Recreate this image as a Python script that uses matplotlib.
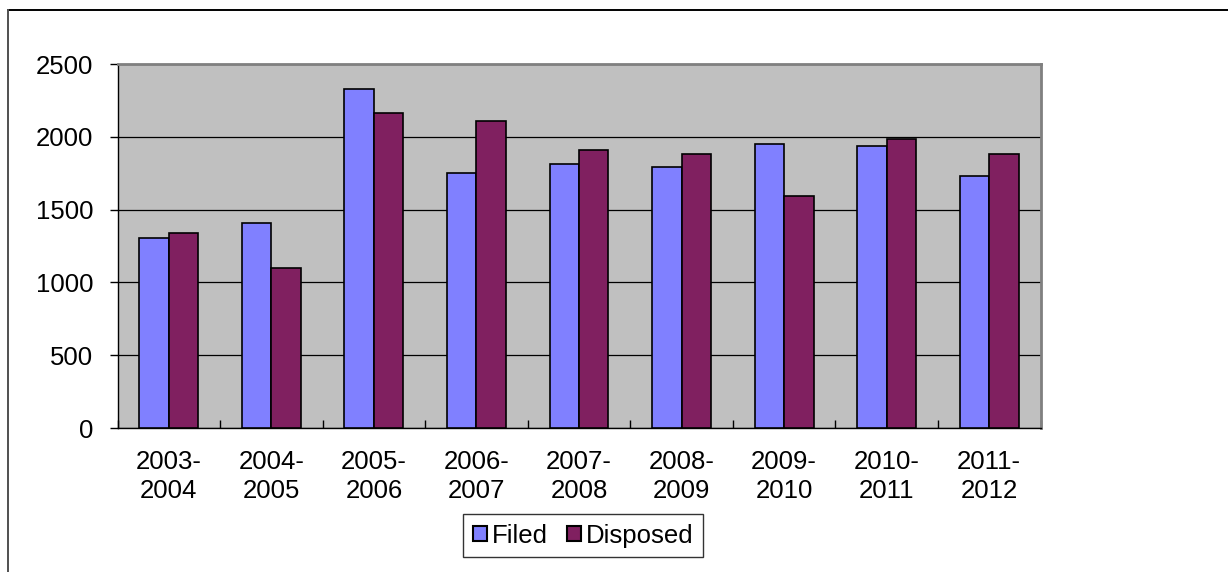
import matplotlib
matplotlib.use("Agg")
import matplotlib.pyplot as plt
from matplotlib.patches import Patch
from matplotlib.lines import Line2D
import numpy as np

categories = ["2003-\n2004", "2004-\n2005", "2005-\n2006", "2006-\n2007", "2007-\n2008",
              "2008-\n2009", "2009-\n2010", "2010-\n2011", "2011-\n2012"]
filed = [1308, 1408, 2330, 1750, 1810, 1795, 1950, 1940, 1733]
disposed = [1338, 1098, 2164, 2110, 1908, 1881, 1593, 1986, 1881]
yticks = [0, 500, 1000, 1500, 2000, 2500]

plt.rcParams['font.family'] = ['Liberation Sans', 'DejaVu Sans']

W, H = 1228, 572
fig = plt.figure(figsize=(W / 100, H / 100), dpi=100)
fig.patch.set_facecolor('white')

ax = fig.add_axes([117.5 / W, 1 - 428 / H, (1040.5 - 117.5) / W, (428 - 64) / H])
ax.set_facecolor('#C0C0C0')

x = np.arange(len(categories))
bw = 0.2875
ax.bar(x - bw / 2, filed, width=bw, color='#8080FF', edgecolor='black', linewidth=1.2,
       label='Filed', zorder=3)
ax.bar(x + bw / 2, disposed, width=bw, color='#802060', edgecolor='black', linewidth=1.2,
       label='Disposed', zorder=3)

ax.set_xlim(-0.5, len(categories) - 0.5)
ax.set_ylim(0, 2500)
ax.set_yticks(yticks)
ax.set_yticklabels([str(v) for v in yticks])
ax.yaxis.grid(True, color='black', linewidth=0.9, zorder=1)
ax.set_axisbelow(True)

ax.set_xticks(x)
ax.set_xticklabels(categories, fontsize=18.5, linespacing=1.25)
ax.tick_params(axis='x', length=0, pad=16)
ax.set_xticks(np.arange(len(categories) + 1) - 0.5, minor=True)
ax.tick_params(axis='x', which='minor', direction='in', length=6, width=1, color='black')
ax.tick_params(axis='y', direction='out', length=6, width=1, labelsize=18.5, pad=11.5)

for s in ['top', 'right']:
    ax.spines[s].set_color('#808080')
    ax.spines[s].set_linewidth(2)
for s in ['left', 'bottom']:
    ax.spines[s].set_color('black')
    ax.spines[s].set_linewidth(1)

handles = [Patch(facecolor='#8080FF', edgecolor='black', linewidth=1.5, label='Filed'),
           Patch(facecolor='#802060', edgecolor='black', linewidth=1.5, label='Disposed')]
leg = fig.legend(handles=handles, loc='center', bbox_to_anchor=(583 / W, 1 - 535.7 / H),
                 ncol=2, fontsize=18.5, frameon=True, fancybox=False, shadow=False,
                 handlelength=0.55, handleheight=0.55, handletextpad=0.18,
                 columnspacing=0.75, borderpad=0.38, borderaxespad=0)
leg.get_frame().set_edgecolor('black')
leg.get_frame().set_linewidth(1)

# figure border
fig.add_artist(Line2D([8 / W, 1.0], [1 - 10 / H, 1 - 10 / H], color='black', linewidth=1.4,
                      transform=fig.transFigure))
fig.add_artist(Line2D([8 / W, 8 / W], [1 - 10 / H, 0], color='#505050', linewidth=1.4,
                      transform=fig.transFigure))

fig.savefig('out.png', dpi=100)
